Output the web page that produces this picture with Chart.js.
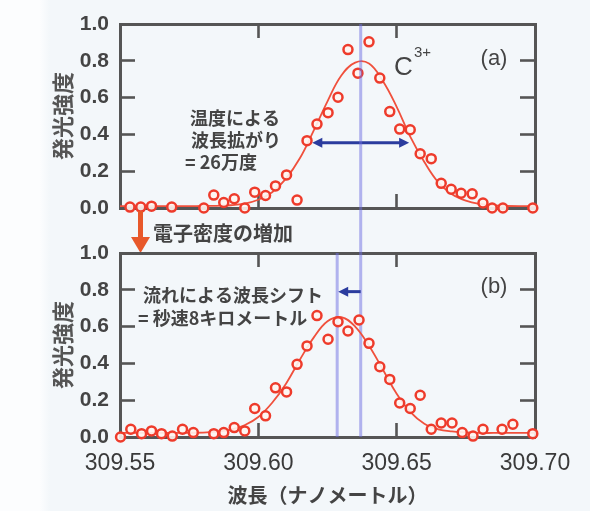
<!DOCTYPE html>
<html><head><meta charset="utf-8">
<script src="https://cdn.jsdelivr.net/npm/chart.js@4.4.1/dist/chart.umd.min.js"></script>
<style>
html,body{margin:0;padding:0;background:#f4f8fb;}
#wrap{position:relative;width:590px;height:511px;overflow:hidden;background:linear-gradient(to right,#fcfdfe 0,#fcfdfe 40px,#f3f7fa 50px,#f3f7fa 100%);}
canvas{position:absolute;left:0;top:0;}
</style></head><body>
<div id="wrap"><canvas id="cTop" width="590" height="511"></canvas><canvas id="cBot" width="590" height="511"></canvas></div>
<script>
// ---- data (wavelength in nm, normalized emission intensity) ----
const wlA  = [309.5536,309.5575,309.5614,309.5687,309.5803,309.5839,309.5875,309.5913,309.5951,309.5987,309.6026,309.6062,309.6102,309.6140,309.6176,309.6212,309.6252,309.6288,309.6324,309.6360,309.6400,309.6439,309.6475,309.6511,309.6549,309.6585,309.6625,309.6661,309.6697,309.6733,309.6773,309.6812,309.6845,309.6884,309.6992];
const intA = [0.005,0.005,0.010,0.005,0.000,0.070,0.030,0.050,0.000,0.086,0.068,0.120,0.180,0.043,0.366,0.456,0.518,0.602,0.861,0.733,0.903,0.706,0.524,0.429,0.425,0.295,0.268,0.134,0.102,0.080,0.077,0.027,0.000,0.000,0.000];

const wlB  = [309.5502,309.5539,309.5578,309.5614,309.5650,309.5689,309.5726,309.5765,309.5839,309.5875,309.5913,309.5951,309.5987,309.6026,309.6062,309.6102,309.6140,309.6176,309.6212,309.6252,309.6288,309.6324,309.6364,309.6400,309.6439,309.6475,309.6511,309.6549,309.6585,309.6625,309.6661,309.6700,309.6737,309.6776,309.6812,309.6881,309.6920,309.6992];
const intB = [0.000,0.042,0.018,0.033,0.018,0.005,0.042,0.024,0.018,0.024,0.051,0.033,0.155,0.115,0.267,0.245,0.395,0.495,0.660,0.531,0.627,0.576,0.636,0.509,0.382,0.313,0.185,0.155,0.227,0.042,0.076,0.076,0.024,0.005,0.042,0.042,0.069,0.018];

const fitX  = [309.550,309.555,309.560,309.565,309.570,309.575,309.580,309.585,309.590,309.595,309.600,309.605,309.610,309.615,309.620,309.625,309.630,309.635,309.640,309.645,309.650,309.655,309.660,309.665,309.670,309.675,309.680,309.685,309.690,309.695,309.700];
const fitA  = [0.010,0.010,0.010,0.010,0.010,0.010,0.011,0.012,0.015,0.024,0.045,0.086,0.160,0.270,0.420,0.580,0.720,0.790,0.785,0.690,0.550,0.385,0.250,0.140,0.075,0.040,0.022,0.014,0.011,0.010,0.010];
const fitB  = [0.022,0.022,0.022,0.022,0.022,0.023,0.024,0.029,0.040,0.064,0.109,0.186,0.290,0.420,0.540,0.629,0.652,0.600,0.496,0.367,0.235,0.135,0.072,0.042,0.030,0.025,0.022,0.022,0.022,0.022,0.022];

const xTickLabels = ['309.55','309.60','309.65','309.70'];
const yTickLabels = ['0.0','0.2','0.4','0.6','0.8','1.0'];
const peakA = 309.637;          // reference line (a)
const peakB = 309.6285;         // shifted line (b)
const fwhm  = [309.6195, 309.6545]; const fwhmLevel = 0.355;
const shift = [309.637, 309.6285];  const shiftLevel = 0.79;

const LAT = "'Liberation Sans', Arial, sans-serif";
const CJK = "'Noto Sans CJK JP', 'Noto Sans CJK SC', sans-serif";
const TXT = '#444';
const FRAME = '#555555';

function pts(xs, ys){ return xs.map((x,i)=>({x:x, y:ys[i]})); }

function arrowHead(ctx, x, y, dir){ // dir: +1 points right, -1 left
  ctx.beginPath();
  ctx.moveTo(x, y);
  ctx.lineTo(x - dir*10, y - 5);
  ctx.lineTo(x - dir*10, y + 5);
  ctx.closePath(); ctx.fill();
}

// inner tick marks: only for ticks strictly inside the range
function innerColor(c){
  const s = c.scale, v = c.tick ? c.tick.value : null;
  return (v !== null && v > s.min + 1e-9 && v < s.max - 1e-9) ? FRAME : 'rgba(0,0,0,0)';
}

// frame axes: border + inward ticks, no labels, zero thickness
function frameX(pos){
  return {type:'linear', position:pos, weight:0, min:309.55, max:309.70, display:true,
    afterBuildTicks:(s)=>{ s.ticks = xTickLabels.map(t=>({value:parseFloat(t)})); },
    ticks:{display:false},
    grid:{display:true, drawOnChartArea:false, drawTicks:true, tickLength:-14, tickWidth:2.6, color:innerColor},
    border:{display:true, color:FRAME, width:3},
    afterFit:(s)=>{ s.height = 0; }
  };
}
function frameY(pos){
  return {type:'linear', position:pos, weight:0, min:0, max:1, display:true,
    afterBuildTicks:(s)=>{ s.ticks = yTickLabels.map(t=>({value:parseFloat(t)})); },
    ticks:{display:false},
    grid:{display:true, drawOnChartArea:false, drawTicks:true, tickLength:-15, tickWidth:2.6, color:innerColor},
    border:{display:true, color:FRAME, width:3},
    afterFit:(s)=>{ s.width = 0; }
  };
}
// label axes: tick labels + titles, outside the frame axes
const labelX = {type:'linear', position:'bottom', weight:1, min:309.55, max:309.70,
  afterBuildTicks:(s)=>{ s.ticks = xTickLabels.map(t=>({value:parseFloat(t)})); },
  ticks:{callback:(v,i)=>xTickLabels[i], color:'#3a3a3a', font:{family:LAT, size:23}, padding:13, maxRotation:0, autoSkip:false},
  grid:{display:false, drawTicks:false}, border:{display:false},
  title:{display:true, text:'波長（ナノメートル）', color:TXT, font:{family:CJK, size:20, weight:'bold'}, padding:{top:0,bottom:4}},
  afterFit:(s)=>{ s.height = 74; }
};
const labelY = {type:'linear', position:'left', weight:1, min:0, max:1,
  afterBuildTicks:(s)=>{ s.ticks = yTickLabels.map(t=>({value:parseFloat(t)})); },
  ticks:{callback:(v,i)=>yTickLabels[i], color:TXT, font:{family:LAT, size:21, weight:'bold'}, padding:11, autoSkip:false},
  grid:{display:false, drawTicks:false}, border:{display:false},
  title:{display:true, text:'発光強度', color:'#555', font:{family:CJK, size:22, weight:'bold'}, padding:{top:49,bottom:0}},
  afterFit:(s)=>{ s.width = 120; }
};

function baseOptions(padTop, padBottom, showX){
  const scales = { x: frameX('bottom'), x2: frameX('top'), y: frameY('left'), y2: frameY('right'), yl: labelY };
  if (showX) scales.xl = labelX;
  return {
    responsive:false, animation:false,
    layout:{padding:{left:0, right:55, top:padTop, bottom:padBottom}},
    plugins:{legend:{display:false}, tooltip:{enabled:false}},
    scales: scales
  };
}

function datasets(xs, ys, fy){
  return [
    {type:'scatter', data:pts(xs, ys), order:0, clip:false, xAxisID:'x', yAxisID:'y',
     pointRadius:4.5, pointBorderWidth:2.5, pointBorderColor:'#ee3b2b', pointBackgroundColor:'rgba(255,244,240,0.9)', showLine:false},
    {type:'line', data:pts(fitX, fy), order:1, clip:false, xAxisID:'x', yAxisID:'y',
     borderColor:'#f0503c', borderWidth:1.8, pointRadius:0, tension:0.4, fill:false}
  ];
}

// ---- top panel (a) ----
const topOverlay = {
  id:'topOverlay',
  afterDraw(chart){
    const {ctx, chartArea:a, scales:{x,y}} = chart;
    ctx.save();
    ctx.strokeStyle = '#2b3c9e'; ctx.fillStyle = '#2b3c9e'; ctx.lineWidth = 3;
    const x1 = x.getPixelForValue(fwhm[0]), x2 = x.getPixelForValue(fwhm[1]), yy = y.getPixelForValue(fwhmLevel);
    ctx.beginPath(); ctx.moveTo(x1+6, yy); ctx.lineTo(x2-6, yy); ctx.stroke();
    arrowHead(ctx, x1, yy, -1); arrowHead(ctx, x2, yy, 1);
    ctx.fillStyle = TXT; ctx.textBaseline = 'middle'; ctx.textAlign = 'left';
    ctx.font = "bold 18px " + CJK;
    ctx.fillText('温度による', 190, 118);
    ctx.fillText('波長拡がり', 191, 140);
    ctx.fillText('= 26万度', 185, 162);
    ctx.font = "26px " + LAT;
    ctx.fillText('C', 394, 68);
    ctx.font = "15px " + LAT;
    ctx.fillText('3+', 414, 53);
    ctx.font = "22px " + LAT; ctx.textAlign = 'center';
    ctx.fillText('(a)', 494, 59);
    ctx.fillStyle = '#e8582a';
    ctx.fillRect(138, a.bottom+3, 5, 27);
    ctx.beginPath(); ctx.moveTo(131, a.bottom+29); ctx.lineTo(150, a.bottom+29); ctx.lineTo(140.5, a.bottom+45); ctx.closePath(); ctx.fill();
    ctx.fillStyle = TXT; ctx.textAlign = 'left';
    ctx.font = "bold 20px " + CJK;
    ctx.fillText('電子密度の増加', 153, a.bottom+25);
    ctx.restore();
  }
};
const chartTop = new Chart(document.getElementById('cTop'), {
  data:{datasets:datasets(wlA, intA, fitA)},
  options:baseOptions(24, 303, false),
  plugins:[topOverlay]
});

// ---- bottom panel (b) ----
const botLines = {
  id:'botLines',
  beforeDatasetsDraw(chart){
    const {ctx, chartArea:a, scales:{x}} = chart;
    ctx.save();
    ctx.strokeStyle = 'rgba(110,110,225,0.5)'; ctx.lineWidth = 3;
    const pA = x.getPixelForValue(peakA), pB = x.getPixelForValue(peakB);
    ctx.beginPath();
    ctx.moveTo(pA, chartTop.chartArea.top); ctx.lineTo(pA, a.bottom);
    ctx.moveTo(pB, a.top); ctx.lineTo(pB, a.bottom);
    ctx.stroke();
    ctx.restore();
  },
  afterDraw(chart){
    const {ctx, chartArea:a, scales:{x,y}} = chart;
    ctx.save();
    ctx.strokeStyle = '#2b3c9e'; ctx.fillStyle = '#2b3c9e'; ctx.lineWidth = 3;
    const x1 = x.getPixelForValue(shift[0]), x2 = x.getPixelForValue(shift[1]), yy = y.getPixelForValue(shiftLevel);
    ctx.beginPath(); ctx.moveTo(x1, yy); ctx.lineTo(x2+6, yy); ctx.stroke();
    arrowHead(ctx, x2+1, yy, -1);
    ctx.fillStyle = TXT; ctx.textBaseline = 'middle'; ctx.textAlign = 'left';
    ctx.font = "bold 18px " + CJK;
    ctx.fillText('流れによる波長シフト', 143, 295);
    ctx.fillText('= 秒速8キロメートル', 138, 318);
    ctx.font = "22px " + LAT; ctx.textAlign = 'center';
    ctx.fillText('(b)', 494, 287);
    ctx.restore();
  }
};
const chartBot = new Chart(document.getElementById('cBot'), {
  data:{datasets:datasets(wlB, intB, fitB)},
  options:baseOptions(253, 0, true),
  plugins:[botLines]
});
</script>
</body></html>
